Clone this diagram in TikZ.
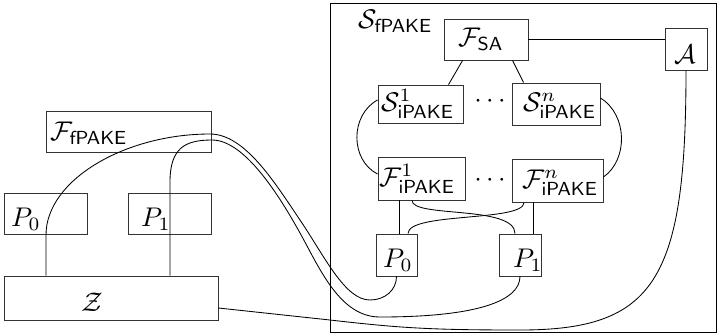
\documentclass[tikz,border=0pt]{standalone}
\usepackage{graphicx}
\newcommand{\Lbl}[1]{\scalebox{2.7}{#1}}
\tikzset{
  box/.style={draw=black!80, line width=0.9pt, inner sep=0pt},
  wire/.style={line width=0.85pt},
  lab/.style={anchor=base west, inner sep=0pt}
}
\begin{document}
\begin{tikzpicture}[x=1pt,y=-1pt]
\useasboundingbox (0,0) rectangle (717,333);
% outer simulator box
\node[box, draw=black, minimum width=386pt, minimum height=329pt] (outer) at (523,167.5) {};
% left side
\node[box, minimum width=165pt, minimum height=41pt] (FfP) at (128.5,131.5) {};
\node[box, minimum width=83pt, minimum height=41pt] (P0l) at (45.5,213.5) {};
\node[box, minimum width=83pt, minimum height=41pt] (P1l) at (169.5,213.5) {};
\node[box, minimum width=214pt, minimum height=44pt] (Zb) at (111,298) {};
\node[lab] (FfPt) at (50,140) {\Lbl{$\mathcal{F}_{\mathsf{fPAKE}}$}};
\node[lab] (P0lt) at (11,226) {\Lbl{$P_0$}};
\node[lab] (P1lt) at (141,226) {\Lbl{$P_1$}};
\node[lab] (Zt) at (81,311) {\Lbl{$\mathcal{Z}$}};
% inside
\node[lab] (SfPt) at (358,28) {\Lbl{$\mathcal{S}_{\mathsf{fPAKE}}$}};
\node[box, minimum width=84pt, minimum height=41pt] (FSA) at (486,39.5) {};
\node[lab] (FSAt) at (458,46) {\Lbl{$\mathcal{F}_{\mathsf{SA}}$}};
\node[box, minimum width=42pt, minimum height=42pt] (Ab) at (686,49) {};
\node[lab, anchor=base] (At) at (685,63) {\Lbl{$\mathcal{A}$}};
\node[box, minimum width=85pt, minimum height=38pt] (S1) at (420.5,104) {};
\node[box, minimum width=88pt, minimum height=42pt] (Sn) at (556,104) {};
\node[box, minimum width=87pt, minimum height=43pt] (F1) at (421.5,178.5) {};
\node[box, minimum width=91pt, minimum height=43pt] (Fn) at (557.5,180.5) {};
\node[lab] (S1t) at (381,111) {\Lbl{$\mathcal{S}^1_{\mathsf{iPAKE}}$}};
\node[lab] (Snt) at (523,111) {\Lbl{$\mathcal{S}^n_{\mathsf{iPAKE}}$}};
\node[lab] (F1t) at (379,186) {\Lbl{$\mathcal{F}^1_{\mathsf{iPAKE}}$}};
\node[lab] (Fnt) at (522,188) {\Lbl{$\mathcal{F}^n_{\mathsf{iPAKE}}$}};
\node[inner sep=0pt] (dots1) at (490,101.5) {\Lbl{$\cdots$}};
\node[inner sep=0pt] (dots2) at (490,180.5) {\Lbl{$\cdots$}};
\node[box, minimum width=41pt, minimum height=42pt] (P0i) at (396.5,255) {};
\node[box, minimum width=42pt, minimum height=42pt] (P1i) at (520,255) {};
\node[lab] (P0it) at (383,267) {\Lbl{$P_0$}};
\node[lab] (P1it) at (513,267) {\Lbl{$P_1$}};
% connectors inside
\draw[wire] (FSA.east) -- (FSA.east -| Ab.west);
\draw[wire] ([xshift=19pt]FSA.south west) -- ([xshift=71pt]S1.north west);
\draw[wire] ([xshift=69pt]FSA.south west) -- ([xshift=12pt]Sn.north west);
\draw[wire] ([yshift=4pt]S1.west) .. controls (350,115) and (350,160) .. ([yshift=4.5pt]F1.west);
\draw[wire] ([yshift=6pt]Sn.east) .. controls (628,115) and (628,160) .. ([yshift=3.5pt]Fn.east);
\draw[wire] ([xshift=2.5pt]P0i.north) -- ([xshift=2.5pt]P0i.north |- F1.south);
\draw[wire] ([xshift=13pt]P1i.north) -- ([xshift=13pt]P1i.north |- Fn.south);
\draw[wire] ([xshift=-9.5pt]F1.south) .. controls (412,218) and (515,205) .. ([xshift=-5pt]P1i.north);
\draw[wire] ([xshift=-33.5pt]Fn.south) .. controls (524,222) and (408,212) .. ([xshift=11.5pt]P0i.north);
% long connectors
\draw[wire] ([xshift=-65pt]Zb.north) -- (46,235) .. controls (46,180) and (125,134) .. (210,134)
  .. controls (245,134) and (275,183) .. (300,220)
  .. controls (325,257) and (345,300) .. (370,300)
  .. controls (385,300) and (396.5,290) .. (P0i.south);
\draw[wire] ([xshift=59pt]Zb.north) -- (170,182) .. controls (170,148) and (185,140) .. (212,140)
  .. controls (245,140) and (280,197) .. (300,233)
  .. controls (320,269) and (340,317) .. (380,317)
  .. controls (480,317) and (520,300) .. (P1i.south);
\draw[wire] ([yshift=-10pt]Zb.east) -- (330,320) .. controls (400,328) and (430,330) .. (520,330)
  .. controls (655,330) and (686,280) .. (Ab.south);
\end{tikzpicture}
\end{document}
